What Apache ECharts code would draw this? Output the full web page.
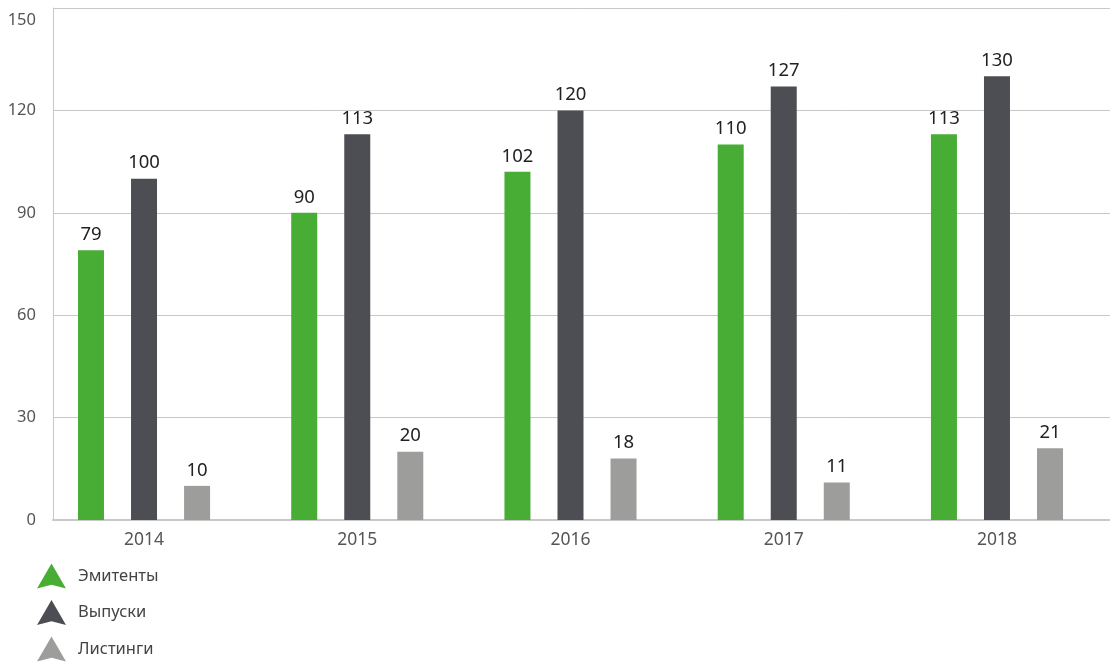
<!DOCTYPE html>
<html>
<head>
<meta charset="utf-8">
<script src="https://cdn.jsdelivr.net/npm/echarts@6/dist/echarts.min.js"></script>
<style>html,body{margin:0;padding:0;background:#fff}#c{width:1110px;height:664px}</style>
</head>
<body>
<div id="c"></div>
<script>
const categories = ['2014', '2015', '2016', '2017', '2018'];
const seriesNames = ['Эмитенты', 'Выпуски', 'Листинги'];
const emitenty = [79, 90, 102, 110, 113];
const vypuski = [100, 113, 120, 127, 130];
const listingi = [10, 20, 18, 11, 21];
const yTicks = { min: 0, max: 150, interval: 30 };

const colors = ['#47ad35', '#4d4e53', '#9d9d9c'];
const font = 'Noto Sans';
const chart = echarts.init(document.getElementById('c'), null, { renderer: 'canvas' });
const icon = 'path://M15,0 L30,26 L15,22 L0,26 Z';
const mk = (name, data, i) => ({
  name, type: 'bar', data, xAxisIndex: 1, yAxisIndex: 1,
  barWidth: 26, barGap: '104%',
  itemStyle: { color: colors[i] },
  label: { show: true, position: 'top', distance: 6, fontSize: 18.5, color: '#222', fontFamily: font },
  emphasis: { disabled: true }
});
chart.setOption({
  animation: false,
  color: colors,
  grid: [
    { left: 53, right: 0, top: 8, height: 512 },
    { left: 37.4, right: 6.4, top: 8, height: 512 }
  ],
  legend: {
    orient: 'vertical', left: 37, top: 563, padding: 0,
    itemWidth: 29, itemHeight: 26, itemGap: 10.5,
    data: seriesNames.map(n => ({ name: n, icon })),
    textStyle: { fontSize: 16.5, color: '#444', fontFamily: font, lineHeight: 14, padding: [12, 0, 0, 7] }
  },
  xAxis: [
    { type: 'category', gridIndex: 0, data: categories,
      axisLine: { show: true, lineStyle: { color: '#c8c8c8', width: 2 } },
      axisTick: { show: false }, axisLabel: { show: false } },
    { type: 'category', gridIndex: 1, data: categories,
      axisLine: { show: false }, axisTick: { show: false },
      axisLabel: { fontSize: 17.5, color: '#555', margin: 11, fontFamily: font } }
  ],
  yAxis: [
    { type: 'value', gridIndex: 0, min: yTicks.min, max: yTicks.max, interval: yTicks.interval,
      axisLine: { show: true, lineStyle: { color: '#c8c8c8', width: 1 } },
      axisTick: { show: false },
      splitLine: { lineStyle: { color: '#c8c8c8', width: 1 } },
      axisLabel: { fontSize: 16.5, color: '#555', margin: 17, fontFamily: font,
        formatter: v => v === yTicks.max ? '{top|' + v + '}' : String(v),
        rich: { top: { fontSize: 16.5, color: '#555', fontFamily: font, padding: [25, 0, 0, 0] } } } },
    { type: 'value', gridIndex: 1, min: yTicks.min, max: yTicks.max, interval: yTicks.interval,
      show: false, splitLine: { show: false } }
  ],
  series: [
    mk(seriesNames[0], emitenty, 0),
    mk(seriesNames[1], vypuski, 1),
    mk(seriesNames[2], listingi, 2)
  ]
});
</script>
</body>
</html>
